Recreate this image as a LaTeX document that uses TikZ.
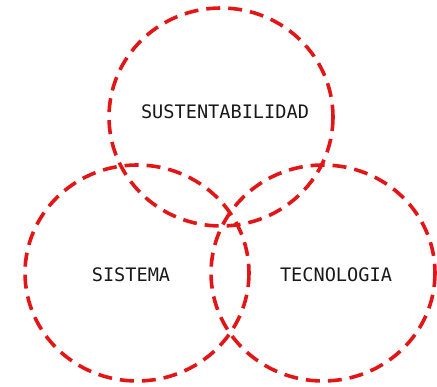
\documentclass[tikz,border=0pt]{standalone}
\usepackage{fontspec}
\setmonofont{DejaVu Sans Mono}
\definecolor{vred}{RGB}{226,22,22}
\begin{document}
\begin{tikzpicture}[x=1pt,y=-1pt,
  ring/.style={draw=vred,line width=3.6pt,dash pattern=on 14pt off 8pt},
  lbl/.style={font=\ttfamily\fontsize{18.6}{20}\selectfont,text=black!90}]
\useasboundingbox (0,0) rectangle (437,387);
\draw[ring] (221,117) ellipse [x radius=112, y radius=109];
\draw[ring] (137,273) ellipse [x radius=112, y radius=108];
\draw[ring] (323,273) ellipse [x radius=112, y radius=108];
\node[lbl] (s) at (225,112) {SUSTENTABILIDAD};
\node[lbl] (si) at (131,275) {SISTEMA};
\node[lbl] (t) at (336,275) {TECNOLOGIA};
\end{tikzpicture}
\end{document}
